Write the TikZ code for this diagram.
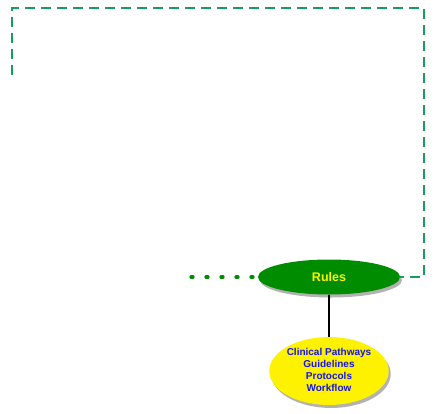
\documentclass[tikz,border=0pt]{standalone}
\usepackage{fontspec}
\setmainfont{Liberation Sans}
\usetikzlibrary{shadows,shapes.geometric}
\definecolor{dashgreen}{RGB}{20,160,90}
\definecolor{rulegreen}{RGB}{0,140,0}
\definecolor{txtblue}{RGB}{20,20,240}
\tikzset{
  sh/.style={drop shadow={shadow xshift=2pt,shadow yshift=-3pt,opacity=0.3,fill=black}},
  greenell/.style={ellipse, draw=none, fill=rulegreen, minimum width=142pt, minimum height=35pt, inner sep=0pt, sh},
  yellowell/.style={ellipse, draw=none, fill=yellow, minimum width=118pt, minimum height=62pt, inner sep=0pt, sh},
  dashline/.style={dashgreen, line width=2.4pt, dash pattern=on 10pt off 6pt},
  dotline/.style={rulegreen, line width=3.2pt, dash pattern=on 2pt off 13pt, line cap=round},
}
\begin{document}
\begin{tikzpicture}[x=1pt,y=-1pt]
\useasboundingbox (0,0) rectangle (436,413);
\coordinate (s) at (12,75);
\coordinate (c1) at (12,8);
\coordinate (c2) at (424,8);
\coordinate (c3) at (424,277);
\coordinate (d0) at (191,277);
\node[greenell] (rules) at (329,277) {\fontsize{12.5}{14}\selectfont\bfseries\color{yellow}Rules};
\node[yellowell] (clin) at (329,371) {\fontsize{10}{12}\selectfont\bfseries\color{txtblue}\begin{tabular}{@{}c@{}}Clinical Pathways\\Guidelines\\Protocols\\Workflow\end{tabular}};
\draw[dashline] (s) -- (c1) -- (c2) -- (c3) -- (rules.east);
\draw[dotline] (d0) -- (rules.west);
\draw[black, line width=1.5pt] (rules.south) -- (clin.north);
\end{tikzpicture}
\end{document}
